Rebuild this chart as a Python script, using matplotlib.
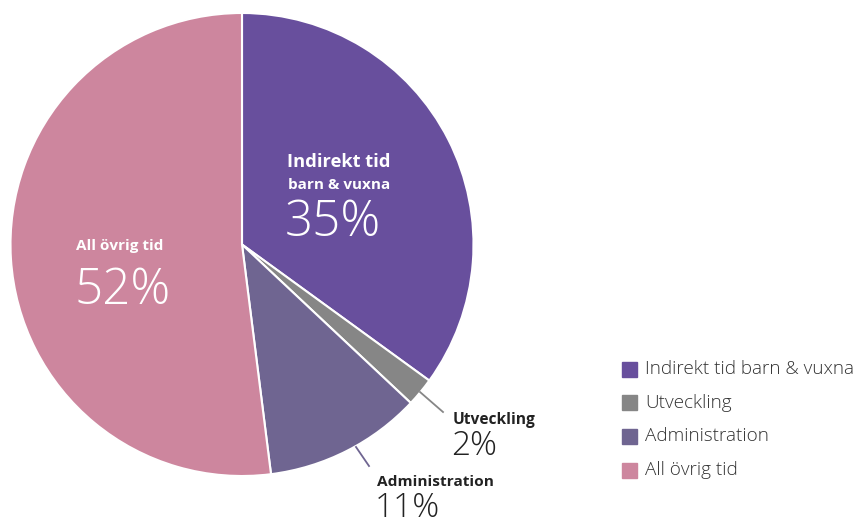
import matplotlib
matplotlib.use("Agg")
import matplotlib.pyplot as plt
import numpy as np

labels = ["Indirekt tid barn & vuxna", "Utveckling", "Administration", "All övrig tid"]
values = [35, 2, 11, 52]
colors = ["#684f9d", "#868686", "#6f6591", "#cd869e"]

plt.rcParams['font.family'] = ['Open Sans', 'DejaVu Sans']

W, H = 856, 519
cx, cy, R = 242, 244.5, 231.5

fig = plt.figure(figsize=(W / 100, H / 100), dpi=100)
ax = fig.add_axes([(cx - R) / W, (H - cy - R) / H, 2 * R / W, 2 * R / H])

wedges, _ = ax.pie(values, colors=colors, startangle=90, counterclock=False,
                   radius=1, wedgeprops=dict(edgecolor="white", linewidth=1.5))
ax.set_xlim(-1, 1)
ax.set_ylim(-1, 1)
ax.set_aspect("equal")
ax.axis("off")


def px(x, y):
    # pixel position -> pie data coords
    return (x - cx) / R, (cy - y) / R


def put(x, y, s, **kw):
    ax.text(*px(x, y), s, ha="left", va="center", clip_on=False, **kw)


# labels inside the big slices
put(287, 162, "Indirekt tid", color="white", fontsize=13.2, fontweight="bold")
put(288, 185, "barn & vuxna", color="white", fontsize=11, fontweight="bold")
put(285, 223, f"{values[0]}%", color="white", fontsize=35.5, fontweight="light")
put(76, 246, "All övrig tid", color="white", fontsize=11, fontweight="bold")
put(74, 291, f"{values[3]}%", color="white", fontsize=35.5, fontweight="light")

# labels for the small slices with leader lines
put(453, 420, labels[1], color="#222222", fontsize=11.2, fontweight="bold")
put(451, 446, f"{values[1]}%", color="#222222", fontsize=24, fontweight="light")
put(377, 482, labels[2], color="#222222", fontsize=11.1, fontweight="bold")
put(375, 508, f"{values[2]}%", color="#222222", fontsize=24, fontweight="light")

ax.plot(*zip(px(420, 392), px(443, 412)), color=colors[1], lw=1.3, clip_on=False)
ax.plot(*zip(px(356, 447), px(369, 466)), color=colors[2], lw=1.3, clip_on=False)

# legend
for i, (lab, col) in enumerate(zip(labels, colors)):
    yc = 369 + i * 33.7
    fig.patches.append(plt.Rectangle((622 / W, (H - yc - 7.5) / H), 15 / W, 15 / H,
                                     transform=fig.transFigure, color=col))
    fig.text(645 / W, (H - yc) / H, lab, ha="left", va="center",
             fontsize=13.6, color="#333333", fontweight="light")

fig.savefig("out.png", dpi=100, facecolor="white")
